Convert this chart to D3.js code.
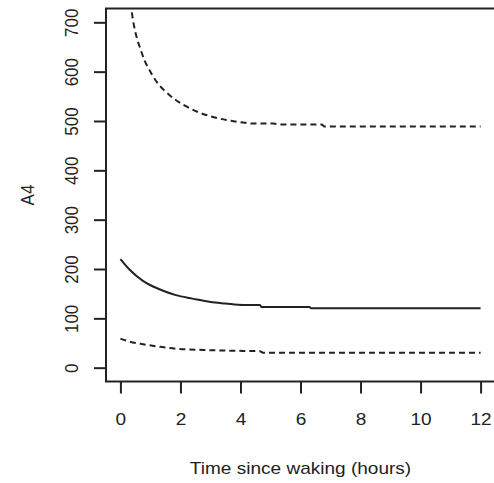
<!DOCTYPE html>
<html>
<head>
<meta charset="utf-8">
<script src="https://cdn.jsdelivr.net/npm/d3@7"></script>
<style>
  body { margin: 0; background: #fff; }
  text { font-family: "Liberation Sans", Arial, sans-serif; fill: #222; }
</style>
</head>
<body>
<div id="chart"></div>
<script>
// values
const xTicks = [0, 2, 4, 6, 8, 10, 12];
const yTicks = [0, 100, 200, 300, 400, 500, 600, 700];

const fitHours = [0, 0.3, 0.75, 1.3, 1.85, 2.4, 3, 3.5, 4.1, 4.65, 4.7, 6.3, 6.35, 12];
const fitValues = [220, 199, 176, 159, 147, 140, 133, 130, 127, 127, 123, 123, 120.5, 120.5];

const lowerHours = [0, 0.3, 0.75, 1.3, 1.85, 3, 4.1, 4.65, 4.75, 12];
const lowerValues = [59, 53, 47.5, 42.5, 38.5, 35.5, 34, 33.5, 30.5, 30.5];

const upperHours = [0.38, 0.45, 0.54, 0.65, 0.81, 0.98, 1.2, 1.48, 1.81, 2.15, 2.59, 2.98, 3.53, 4.09, 4.4, 5.1, 5.3, 6.7, 6.8, 12];
const upperValues = [720, 694, 670, 649, 622, 602, 580, 561, 544, 531, 518, 510, 502, 497, 495, 495, 493, 493, 489, 489];

const W = 494, H = 483;
const plot = { left: 106, right: 495, top: 8.5, bottom: 381.5 };
const stretch = 1.12; // text in the picture is a little wider than tall

const svg = d3.select("#chart")
  .append("svg")
    .attr("width", W)
    .attr("height", H);

const x = d3.scaleLinear()
  .domain([-0.48, 12.48])
  .range([plot.left, plot.right]);

const y = d3.scaleLinear()
  .domain([-28, 728])
  .range([plot.bottom, plot.top]);

svg.append("clipPath")
    .attr("id", "clip")
  .append("rect")
    .attr("x", plot.left)
    .attr("y", plot.top)
    .attr("width", plot.right - plot.left)
    .attr("height", plot.bottom - plot.top);

// x axis (ticks + labels)
const xAxis = svg.append("g")
  .attr("transform", `translate(0,${plot.bottom})`)
  .call(d3.axisBottom(x).tickValues(xTicks).tickSize(12).tickPadding(0).tickFormat(d3.format("d")));
xAxis.select(".domain").remove();
xAxis.selectAll(".tick line").attr("stroke", "#222").attr("stroke-width", 2);
xAxis.selectAll(".tick text").remove();
xAxis.selectAll(".tick").append("text")
  .attr("transform", `translate(0,43.5) scale(${stretch},1)`)
  .attr("text-anchor", "middle")
  .style("font-size", "17px")
  .text(d => d);

// y axis (ticks + rotated labels)
const yAxis = svg.append("g")
  .attr("transform", `translate(${plot.left},0)`)
  .call(d3.axisLeft(y).tickValues(yTicks).tickSize(12));
yAxis.select(".domain").remove();
yAxis.selectAll(".tick line").attr("stroke", "#222").attr("stroke-width", 2);
yAxis.selectAll(".tick text").remove();
yAxis.selectAll(".tick").append("text")
  .attr("transform", `translate(-28,0) scale(${stretch},1) rotate(-90)`)
  .attr("text-anchor", "middle")
  .style("font-size", "17px")
  .text(d => d);

// box
svg.append("rect")
  .attr("x", plot.left)
  .attr("y", plot.top)
  .attr("width", plot.right - plot.left)
  .attr("height", plot.bottom - plot.top)
  .attr("fill", "none")
  .attr("stroke", "#222")
  .attr("stroke-width", 2);

// axis titles
svg.append("text")
  .attr("transform", `translate(${(plot.left + plot.right) / 2},473.5) scale(${stretch},1)`)
  .attr("text-anchor", "middle")
  .style("font-size", "17px")
  .text("Time since waking (hours)");

svg.append("text")
  .attr("transform", `translate(33.5,${(plot.top + plot.bottom) / 2}) scale(${stretch},1) rotate(-90)`)
  .attr("text-anchor", "middle")
  .style("font-size", "17px")
  .text("A4");

// lines
const line = d3.line()
  .curve(d3.curveMonotoneX)
  .x(d => x(d[0]))
  .y(d => y(d[1]));

const series = [
  { hours: fitHours, values: fitValues, dash: null },
  { hours: lowerHours, values: lowerValues, dash: "6,4" },
  { hours: upperHours, values: upperValues, dash: "6,4" }
];

svg.append("g")
    .attr("clip-path", "url(#clip)")
  .selectAll("path")
  .data(series)
  .join("path")
    .attr("d", s => line(s.hours.map((h, i) => [h, s.values[i]])))
    .attr("fill", "none")
    .attr("stroke", "#222")
    .attr("stroke-width", 2)
    .attr("stroke-dasharray", s => s.dash);
</script>
</body>
</html>
